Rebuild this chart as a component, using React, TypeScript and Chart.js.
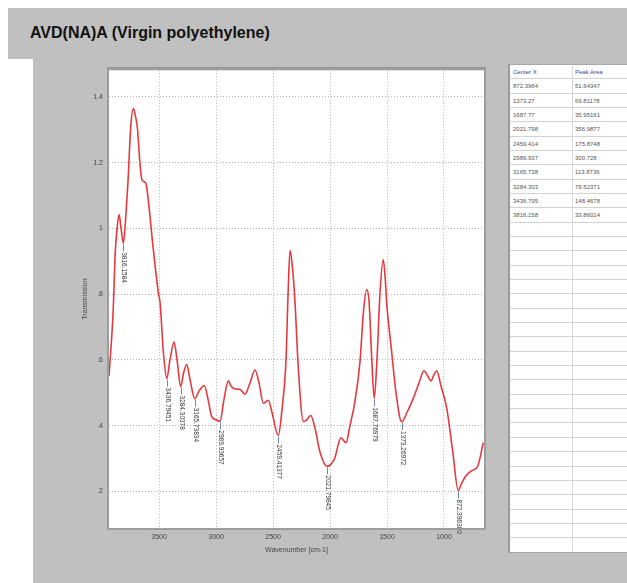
import React, { useEffect, useRef } from "react";
import { Chart, registerables } from "chart.js";

Chart.register(...registerables);

const chartTitle = "AVD(NA)A (Virgin polyethylene)";
const xAxisTitle = "Wavenumber [cm-1]";
const yAxisTitle = "Transmission";

const wavenumber = [3939, 3901, 3886, 3868, 3851, 3833, 3813, 3789, 3772, 3748, 3725, 3706, 3690, 3667, 3652, 3632, 3614, 3594, 3550, 3506, 3491, 3462, 3432, 3404, 3368, 3342, 3310, 3285, 3257, 3228, 3187, 3149, 3103, 3070, 3038, 3000, 2965, 2930, 2892, 2868, 2833, 2789, 2746, 2702, 2658, 2623, 2585, 2541, 2509, 2454, 2421, 2386, 2368, 2351, 2329, 2307, 2278, 2234, 2211, 2169, 2132, 2088, 2024, 1991, 1956, 1930, 1904, 1860, 1825, 1781, 1737, 1708, 1679, 1658, 1636, 1612, 1588, 1562, 1533, 1518, 1503, 1459, 1421, 1371, 1325, 1269, 1219, 1176, 1141, 1114, 1088, 1064, 1026, 976, 924, 875, 851, 816, 758, 709, 685, 656];

const transmission = [0.55, 0.76, 0.915, 1.0, 1.042, 1.0, 0.955, 1.05, 1.144, 1.31, 1.364, 1.34, 1.306, 1.195, 1.15, 1.142, 1.135, 1.085, 0.935, 0.804, 0.774, 0.624, 0.543, 0.6, 0.654, 0.6, 0.519, 0.56, 0.586, 0.54, 0.482, 0.505, 0.522, 0.48, 0.428, 0.418, 0.413, 0.48, 0.536, 0.52, 0.512, 0.51, 0.496, 0.53, 0.569, 0.53, 0.468, 0.477, 0.44, 0.37, 0.45, 0.6, 0.8, 0.933, 0.88, 0.774, 0.574, 0.413, 0.415, 0.431, 0.393, 0.32, 0.276, 0.283, 0.303, 0.34, 0.363, 0.348, 0.4, 0.474, 0.594, 0.74, 0.814, 0.78, 0.62, 0.483, 0.6, 0.8, 0.905, 0.86, 0.774, 0.624, 0.5, 0.411, 0.44, 0.483, 0.53, 0.567, 0.55, 0.536, 0.555, 0.567, 0.52, 0.453, 0.323, 0.203, 0.22, 0.243, 0.263, 0.273, 0.3, 0.348];

const xTicks = [3500, 3000, 2500, 2000, 1500, 1000];
const yTicks = [0.2, 0.4, 0.6, 0.8, 1.0, 1.2, 1.4];
const yTickLabels = [".2", ".4", ".6", ".8", "1", "1.2", "1.4"];

const peakMarks = [3813, 3432, 3310, 3187, 2965, 2454, 2024, 1612, 1371, 875];
const peakLabels = ["3816.1584", "3436.79451", "3284.30378", "3165.73834", "2989.93657", "2459.41377", "2021.79845", "1687.76979", "1373.26972", "872.396380"];

const tableHeaders = ["Center X", "Peak Area"];
const centerX = ["872.3964", "1373.27", "1687.77", "2021.798", "2459.414", "2989.937", "3165.738", "3284.303", "3436.795", "3816.158"];
const peakArea = ["51.64347", "69.81178", "35.95161", "356.9877", "175.8748", "300.728", "113.8736", "79.52371", "148.4678", "33.86014"];

const FONT = "'Liberation Sans', Arial, sans-serif";
const GRAY = "#c0c0c0";

const decorPlugin = {
  id: "decor",
  beforeDraw(chart: any) {
    const { ctx, chartArea: a } = chart;
    ctx.save();
    ctx.fillStyle = "#ffffff";
    ctx.fillRect(a.left, a.top, a.right - a.left, a.bottom - a.top);
    ctx.restore();
  },
  afterDatasetsDraw(chart: any) {
    const { ctx, scales } = chart;
    const xs = scales.x;
    const ys = scales.y;
    ctx.save();
    peakMarks.forEach((wn, i) => {
      let best = 0;
      for (let k = 0; k < wavenumber.length; k++) {
        if (Math.abs(wavenumber[k] - wn) < Math.abs(wavenumber[best] - wn)) best = k;
      }
      const px = Math.round(xs.getPixelForValue(wavenumber[best])) + 0.5;
      const py = ys.getPixelForValue(transmission[best]);
      ctx.strokeStyle = "#6f86b0";
      ctx.lineWidth = 1;
      ctx.beginPath();
      ctx.moveTo(px, py + 1);
      ctx.lineTo(px, py + 8);
      ctx.stroke();
      ctx.save();
      ctx.translate(px, py + 9);
      ctx.rotate(Math.PI / 2);
      ctx.font = `6.5px ${FONT}`;
      ctx.fillStyle = "#333";
      ctx.textAlign = "left";
      ctx.textBaseline = "middle";
      ctx.fillText(peakLabels[i], 0, 0);
      ctx.restore();
    });
    ctx.restore();
  },
  afterDraw(chart: any) {
    const { ctx, chartArea: a } = chart;
    ctx.save();
    ctx.strokeStyle = "#9d9d9d";
    ctx.lineWidth = 2;
    ctx.strokeRect(a.left - 1, a.top - 1, a.right - a.left + 2, a.bottom - a.top + 2);
    ctx.strokeStyle = "#8a8a8a";
    ctx.lineWidth = 1;
    ctx.beginPath();
    ctx.moveTo(a.left - 2, a.top - 2.5);
    ctx.lineTo(a.right + 2, a.top - 2.5);
    ctx.stroke();
    ctx.restore();
  },
};

function SpectrumChart() {
  const ref = useRef<HTMLCanvasElement | null>(null);
  useEffect(() => {
    if (!ref.current) return;
    const points = wavenumber.map((x, i) => ({ x, y: transmission[i] }));
    const chart = new Chart(ref.current, {
      type: "line",
      data: {
        datasets: [
          {
            data: points,
            borderColor: "#e5393e",
            borderWidth: 1.6,
            pointRadius: 0,
            fill: false,
            cubicInterpolationMode: "monotone",
          },
        ],
      },
      options: {
        responsive: false,
        animation: false,
        layout: { padding: { top: 5, right: 6, left: 0, bottom: 0 } },
        plugins: { legend: { display: false }, tooltip: { enabled: false } },
        scales: {
          x: {
            type: "linear",
            reverse: true,
            min: 649,
            max: 3939,
            afterBuildTicks: (s: any) => {
              s.ticks = xTicks.map((v) => ({ value: v }));
            },
            afterFit: (s: any) => {
              s.height = 32;
            },
            ticks: {
              color: "#444",
              font: { size: 7, family: FONT },
              padding: 5,
              maxRotation: 0,
              autoSkip: false,
              callback: (v: any) => String(v),
            },
            grid: { color: "#b4b4b4", drawTicks: false, lineWidth: 1 },
            border: { display: false, dash: [1, 2] },
            title: {
              display: true,
              text: xAxisTitle,
              color: "#444",
              font: { size: 7, family: FONT },
              padding: { top: 0, bottom: 6 },
            },
          },
          y: {
            type: "linear",
            min: 0.0887,
            max: 1.481,
            afterBuildTicks: (s: any) => {
              s.ticks = yTicks.map((v) => ({ value: v }));
            },
            afterFit: (s: any) => {
              s.width = 49;
            },
            ticks: {
              color: "#444",
              font: { size: 7, family: FONT },
              padding: 6,
              autoSkip: false,
              callback: (v: any) => {
                const idx = yTicks.findIndex((t) => Math.abs(t - v) < 1e-6);
                return idx >= 0 ? yTickLabels[idx] : "";
              },
            },
            grid: { color: "#b4b4b4", drawTicks: false, lineWidth: 1 },
            border: { display: false, dash: [1, 2] },
            title: {
              display: true,
              text: yAxisTitle,
              color: "#444",
              font: { size: 7, family: FONT },
              padding: { top: 21, bottom: 0 },
            },
          },
        },
      },
      plugins: [decorPlugin],
    } as any);
    return () => chart.destroy();
  }, []);
  return (
    <canvas
      ref={ref}
      width={430}
      height={500}
      style={{ position: "absolute", left: 60, top: 60, width: 430, height: 500 }}
    />
  );
}

function PeakTable() {
  const rowH = 14.34;
  const nRows = 34;
  const rows = [] as any[];
  for (let r = 0; r < nRows; r++) {
    let c1 = "";
    let c2 = "";
    let header = false;
    if (r === 0) {
      c1 = tableHeaders[0];
      c2 = tableHeaders[1];
      header = true;
    } else if (r - 1 < centerX.length) {
      c1 = centerX[r - 1];
      c2 = peakArea[r - 1];
    }
    rows.push(
      <div
        key={r}
        style={{
          position: "absolute",
          left: 0,
          top: r * rowH,
          width: 140,
          height: rowH,
          boxSizing: "border-box",
          borderBottom: r === nRows - 1 ? "none" : "1px solid #d2d2d2",
          fontFamily: FONT,
          fontSize: 6,
          color: header ? "#33449a" : "#555",
          lineHeight: `${rowH}px`,
          whiteSpace: "nowrap",
        }}
      >
        <span style={{ position: "absolute", left: 3 }}>{c1}</span>
        <span style={{ position: "absolute", left: 65 }}>{c2}</span>
      </div>
    );
  }
  return (
    <div
      style={{
        position: "absolute",
        left: 508,
        top: 64,
        width: 140,
        height: 489,
        background: "#ffffff",
        borderLeft: "2px solid #9a9a9a",
        borderTop: "1px solid #a8a8a8",
        borderBottom: "1px solid #a8a8a8",
        boxSizing: "border-box",
      }}
    >
      <div style={{ position: "absolute", left: 62, top: 0, width: 1, height: "100%", background: "#d8d8d8" }} />
      {rows}
    </div>
  );
}

export default function App() {
  return (
    <div
      style={{
        position: "fixed",
        left: 0,
        top: 0,
        width: 627,
        height: 583,
        background: "#ffffff",
        overflow: "hidden",
      }}
    >
      <div style={{ position: "absolute", left: 8, top: 8, width: 619, height: 51, background: GRAY }} />
      <div style={{ position: "absolute", left: 33, top: 59, width: 594, height: 524, background: GRAY }} />
      <div
        style={{
          position: "absolute",
          left: 30,
          top: 25,
          fontFamily: FONT,
          fontWeight: "bold",
          fontSize: 16,
          lineHeight: "16px",
          color: "#111",
          whiteSpace: "nowrap",
        }}
      >
        {chartTitle}
      </div>
      <SpectrumChart />
      <PeakTable />
    </div>
  );
}
